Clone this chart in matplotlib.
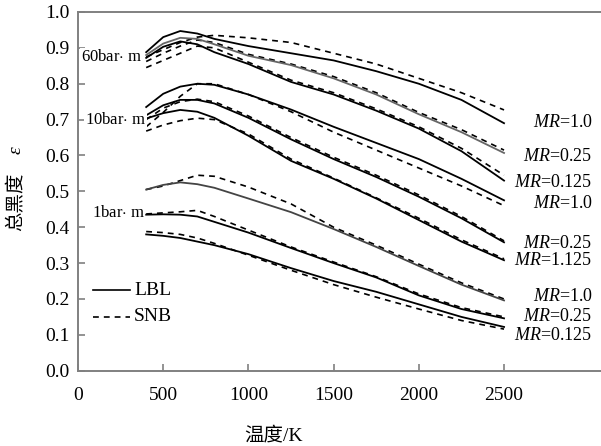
import matplotlib.pyplot as plt
import numpy as np

plt.rcParams['font.family'] = ['Liberation Serif', 'Noto Sans CJK SC', 'DejaVu Sans']
plt.rcParams['mathtext.fontset'] = 'custom'
plt.rcParams['mathtext.it'] = 'Liberation Serif:italic'
plt.rcParams['mathtext.rm'] = 'Liberation Serif'

# temperature grid (K)
T = [400, 500, 600, 700, 800, 1000, 1250, 1500, 1750, 2000, 2250, 2500]

# 60 bar.m
lbl_60_10 = [0.888, 0.930, 0.947, 0.940, 0.925, 0.905, 0.885, 0.865, 0.835, 0.800, 0.755, 0.690]
snb_60_10 = [0.875, 0.895, 0.915, 0.930, 0.935, 0.928, 0.915, 0.885, 0.855, 0.815, 0.775, 0.727]
lbl_60_025 = [0.880, 0.912, 0.928, 0.925, 0.910, 0.878, 0.852, 0.815, 0.770, 0.715, 0.665, 0.607]
snb_60_025 = [0.862, 0.885, 0.905, 0.922, 0.915, 0.882, 0.855, 0.820, 0.775, 0.720, 0.672, 0.615]
lbl_60_0125 = [0.872, 0.903, 0.918, 0.910, 0.888, 0.855, 0.805, 0.770, 0.725, 0.675, 0.612, 0.530]
snb_60_0125 = [0.845, 0.865, 0.885, 0.905, 0.900, 0.860, 0.810, 0.775, 0.730, 0.680, 0.620, 0.545]

# 10 bar.m
lbl_10_10 = [0.735, 0.772, 0.792, 0.800, 0.797, 0.770, 0.728, 0.680, 0.635, 0.590, 0.535, 0.475]
snb_10_10 = [0.680, 0.720, 0.765, 0.800, 0.800, 0.770, 0.722, 0.665, 0.615, 0.565, 0.515, 0.460]
lbl_10_025 = [0.712, 0.740, 0.755, 0.755, 0.745, 0.705, 0.645, 0.590, 0.540, 0.485, 0.425, 0.358]
snb_10_025 = [0.700, 0.732, 0.750, 0.757, 0.750, 0.710, 0.650, 0.595, 0.545, 0.490, 0.430, 0.362]
lbl_10_0125 = [0.703, 0.718, 0.727, 0.722, 0.705, 0.655, 0.585, 0.535, 0.480, 0.420, 0.360, 0.308]
snb_10_0125 = [0.668, 0.685, 0.697, 0.704, 0.700, 0.660, 0.590, 0.537, 0.482, 0.425, 0.365, 0.312]

# 1 bar.m
lbl_1_10 = [0.505, 0.518, 0.525, 0.520, 0.510, 0.480, 0.442, 0.395, 0.345, 0.292, 0.240, 0.196]
snb_1_10 = [0.505, 0.515, 0.530, 0.545, 0.542, 0.512, 0.465, 0.400, 0.350, 0.297, 0.245, 0.200]
lbl_1_025 = [0.435, 0.436, 0.435, 0.430, 0.415, 0.385, 0.342, 0.300, 0.260, 0.210, 0.172, 0.146]
snb_1_025 = [0.437, 0.440, 0.443, 0.447, 0.430, 0.392, 0.345, 0.303, 0.262, 0.214, 0.176, 0.150]
lbl_1_0125 = [0.380, 0.376, 0.370, 0.360, 0.350, 0.325, 0.286, 0.250, 0.220, 0.185, 0.150, 0.122]
snb_1_0125 = [0.388, 0.385, 0.380, 0.370, 0.355, 0.322, 0.280, 0.240, 0.205, 0.172, 0.140, 0.116]

lbl_all = [lbl_60_10, lbl_60_025, lbl_60_0125, lbl_10_10, lbl_10_025, lbl_10_0125,
           lbl_1_10, lbl_1_025, lbl_1_0125]
snb_all = [snb_60_10, snb_60_025, snb_60_0125, snb_10_10, snb_10_025, snb_10_0125,
           snb_1_10, snb_1_025, snb_1_0125]
lbl_colors = ['k', '#666666', 'k', 'k', 'k', 'k', '#444444', 'k', 'k']

mr_labels = ['1.0', '0.25', '0.125', '1.0', '0.25', '1.125', '1.0', '0.25', '0.125']
mr_y = [0.693, 0.596, 0.526, 0.467, 0.356, 0.306, 0.208, 0.150, 0.097]

fig = plt.figure(figsize=(6.01, 4.46), dpi=100)
ax = fig.add_axes([0.1298, 0.1688, 0.8702, 0.8043])

for s in snb_all:
    ax.plot(T, s, color='k', lw=1.2, ls=(0, (3.5, 3)))
for s, c in zip(lbl_all, lbl_colors):
    ax.plot(T, s, color=c, lw=1.3)

# group labels
ax.text(18, 0.875, r'60bar$\cdot$ m', fontsize=12, va='center', ha='left',
        bbox=dict(fc='white', ec='none', pad=0.5))
ax.text(40, 0.700, r'10bar$\cdot$ m', fontsize=12, va='center', ha='left',
        bbox=dict(fc='white', ec='none', pad=0.5))
ax.text(80, 0.440, r'1bar$\cdot$ m', fontsize=12, va='center', ha='left',
        bbox=dict(fc='white', ec='none', pad=0.5))

for lab, y in zip(mr_labels, mr_y):
    ax.text(3020, y, r'$MR$=' + lab, fontsize=13, ha='right', va='center')

# hand-drawn legend
ax.plot([88, 305], [0.224, 0.224], color='k', lw=1.2)
ax.text(330, 0.224, 'LBL', fontsize=14, va='center')
ax.plot([88, 305], [0.150, 0.150], color='k', lw=1.2, ls=(0, (3.5, 3)))
ax.text(330, 0.150, 'SNB', fontsize=14, va='center')

ax.set_xlim(0, 3069)
ax.set_ylim(0, 1.0)
ax.set_xticks([0, 500, 1000, 1500, 2000, 2500])
ax.set_yticks(np.arange(0, 1.01, 0.1))
ax.yaxis.set_major_formatter(plt.FormatStrFormatter('%.1f'))
ax.tick_params(direction='in', length=5, width=1.2, color='#808080', labelsize=14, pad=6)
ax.tick_params(axis='x', pad=12)
for side in ['left', 'bottom', 'top']:
    ax.spines[side].set_color('#808080')
    ax.spines[side].set_linewidth(1.4)
ax.spines['right'].set_visible(False)

ax.set_xlabel('温度/K', fontsize=14)
ax.xaxis.set_label_coords(0.373, -0.155)

# y label: Chinese part plus italic epsilon
ax.text(-0.118, 0.471, '总黑度', fontsize=14, rotation=90, ha='center', va='center',
        transform=ax.transAxes)
ax.text(-0.118, 0.615, 'ε', fontsize=14, rotation=90, ha='center', va='center',
        style='italic', transform=ax.transAxes)

plt.savefig('out.png', dpi=100)
